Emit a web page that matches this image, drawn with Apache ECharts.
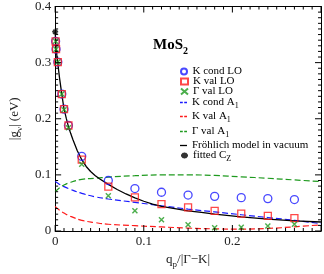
<!DOCTYPE html>
<html><head><meta charset="utf-8">
<script src="https://cdn.jsdelivr.net/npm/echarts@6/dist/echarts.min.js"></script>
<style>html,body{margin:0;padding:0;background:#fff}#c{width:324px;height:274px}</style>
</head><body><div id="c"></div>
<script>
// ---- data ----
const qLO = [0.0005, 0.001, 0.003, 0.0075, 0.01, 0.015, 0.03, 0.06, 0.09, 0.12, 0.15, 0.18, 0.21, 0.24, 0.27];
const kCondLO = [0.338, 0.324, 0.301, 0.244, 0.217, 0.188, 0.133, 0.090, 0.0756, 0.069, 0.064, 0.0617, 0.0594, 0.0577, 0.056];
const kValLO  = [0.338, 0.324, 0.301, 0.244, 0.217, 0.188, 0.127, 0.079, 0.060, 0.048, 0.042, 0.036, 0.031, 0.027, 0.023];
const gValLO  = [0.338, 0.324, 0.301, 0.244, 0.216, 0.184, 0.119, 0.063, 0.036, 0.020, 0.011, 0.006, 0.0067, 0.009, 0.012];

const qA1 = [0, 0.005, 0.01, 0.016, 0.03, 0.045, 0.06, 0.09, 0.12, 0.15, 0.18, 0.21, 0.24, 0.27, 0.3];
const kCondA1 = [0.088, 0.083, 0.079, 0.075, 0.067, 0.061, 0.057, 0.051, 0.045, 0.039, 0.034, 0.029, 0.024, 0.019, 0.013];
const kValA1  = [0.044, 0.037, 0.032, 0.027, 0.019, 0.015, 0.012, 0.0095, 0.0072, 0.0052, 0.0038, 0.0034, 0.0045, 0.0075, 0.011];
const gValA1  = [0.070, 0.077, 0.082, 0.086, 0.092, 0.094, 0.096, 0.0985, 0.100, 0.100, 0.099, 0.0965, 0.094, 0.091, 0.088];

const qFr = [0, 0.001, 0.002, 0.003, 0.004, 0.005, 0.0065, 0.0075, 0.009, 0.01, 0.0125, 0.015, 0.0175, 0.02, 0.025, 0.03, 0.035, 0.04, 0.045, 0.05, 0.06, 0.07, 0.08, 0.09, 0.1, 0.11, 0.12, 0.135, 0.15, 0.165, 0.18, 0.21, 0.24, 0.27, 0.3];
const frohlich = [0.355, 0.326, 0.312, 0.300, 0.285, 0.272, 0.255, 0.244, 0.228, 0.218, 0.201, 0.186, 0.174, 0.163, 0.143, 0.127, 0.115, 0.106, 0.099, 0.093, 0.083, 0.074, 0.066, 0.059, 0.053, 0.048, 0.044, 0.040, 0.036, 0.033, 0.030, 0.025, 0.021, 0.018, 0.016];

const qCz = [0];
const fittedCz = [0.355];

// tick positions (major every 0.1, minor every 0.01)
const xTickVals = [0, 0.01, 0.02, 0.03, 0.04, 0.05, 0.06, 0.07, 0.08, 0.09, 0.1, 0.11, 0.12, 0.13, 0.14, 0.15, 0.16, 0.17, 0.18, 0.19, 0.2, 0.21, 0.22, 0.23, 0.24, 0.25, 0.26, 0.27, 0.28, 0.29, 0.3];
const yTickVals = [0, 0.01, 0.02, 0.03, 0.04, 0.05, 0.06, 0.07, 0.08, 0.09, 0.1, 0.11, 0.12, 0.13, 0.14, 0.15, 0.16, 0.17, 0.18, 0.19, 0.2, 0.21, 0.22, 0.23, 0.24, 0.25, 0.26, 0.27, 0.28, 0.29, 0.3, 0.31, 0.32, 0.33, 0.34, 0.35, 0.36, 0.37, 0.38, 0.39, 0.4];
const X_MIN = 0, X_MAX = 0.3, Y_MIN = 0, Y_MAX = 0.4;

// ---- helpers ----
const zip = (xs, ys) => xs.map((x, i) => [x, ys[i]]);
const FONT = 'Liberation Serif';
const BLUE = '#1a1aff', RED = '#ff1a1a', GREEN = '#1f9a1f';
const xPath = 'path://M0,0L10,10M10,0L0,10';
const starPath = 'path://M5,0L5,10M0,5L10,5M1.5,1.5L8.5,8.5M8.5,1.5L1.5,8.5';
const dashIcon = 'path://M0,0H4V1H0ZM6,0H10V1H6Z';
const rich = {
  t: { fontFamily: FONT, fontSize: 11, color: '#000' },
  s: { fontFamily: FONT, fontSize: 8, color: '#000', verticalAlign: 'top', padding: [7, 0, 0, 0] }
};
const names = ['K cond LO', 'K val LO', 'Γ val LO', 'K cond A1', 'K val A1', 'Γ val A1', 'Fröhlich model in vacuum', 'fitted CZ'];
const labels = {
  'K cond LO': '{t|K cond LO}', 'K val LO': '{t|K val LO}', 'Γ val LO': '{t|Γ val LO}',
  'K cond A1': '{t|K cond A}{s|1}', 'K val A1': '{t|K val A}{s|1}', 'Γ val A1': '{t|Γ val A}{s|1}',
  'Fröhlich model in vacuum': '{t|Fröhlich model in vacuum}', 'fitted CZ': '{t|fitted C}{s|Z}'
};
const icons = [null, null, null, dashIcon, dashIcon, dashIcon, 'rect', null];
const rowY = [73, 83, 93, 104, 118, 133, 147, 157];
const legends = names.map((n, i) => {
  const isLine = icons[i] !== null;
  return {
    orient: 'vertical', left: 180, top: rowY[i] - 7, itemWidth: 7, itemHeight: isLine ? 1.3 : 6, itemGap: 0,
    padding: 0, selectedMode: false, symbolKeepAspect: false,
    data: [isLine ? { name: n, icon: icons[i] } : n],
    formatter: nm => labels[nm],
    textStyle: { fontFamily: FONT, fontSize: 11, color: '#000', rich }
  };
});

function mkAxis(extra) {
  return Object.assign({
    axisTick: { show: false },
    minorTick: { show: false },
    splitLine: { show: false },
    minorSplitLine: { show: false }
  }, extra);
}
const labelStyle = { fontFamily: FONT, fontSize: 13, color: '#222', margin: 4 };
const nameRich = {
  a: { fontFamily: FONT, fontSize: 13, color: '#222', verticalAlign: 'top' },
  s: { fontFamily: FONT, fontSize: 9, color: '#222', verticalAlign: 'top', padding: [7, 0, 0, 0] }
};

// tick marks as small bars placed through the axis scale at each tick value
const isMajor = v => Math.abs(v * 10 - Math.round(v * 10)) < 1e-6;
const tickLen = v => (isMajor(v) ? 6 : 3);
const bottomTicks = xTickVals.map(v => ({ value: [v, Y_MIN], symbolSize: [1, tickLen(v)], symbolOffset: [0, -tickLen(v) / 2] }));
const topTicks    = xTickVals.map(v => ({ value: [v, Y_MAX], symbolSize: [1, tickLen(v)], symbolOffset: [0,  tickLen(v) / 2] }));
const leftTicks   = yTickVals.map(v => ({ value: [X_MIN, v], symbolSize: [tickLen(v), 1], symbolOffset: [ tickLen(v) / 2, 0] }));
const rightTicks  = yTickVals.map(v => ({ value: [X_MAX, v], symbolSize: [tickLen(v), 1], symbolOffset: [-tickLen(v) / 2, 0] }));
const tickSeries = [bottomTicks, topTicks, leftTicks, rightTicks].map(d => ({
  type: 'scatter', data: d, symbol: 'rect', clip: false, silent: true, z: 10,
  itemStyle: { color: '#000', borderWidth: 0, opacity: 1 }, emphasis: { disabled: true }
}));

const chart = echarts.init(document.getElementById('c'), null, { renderer: 'canvas' });
chart.setOption({
  animation: false,
  backgroundColor: '#fff',
  tooltip: { show: false },
  title: {
    text: '{a|MoS}{b|2}', left: 148, top: 33,
    textStyle: { rich: {
      a: { fontFamily: FONT, fontSize: 15, color: '#000', verticalAlign: 'top' },
      b: { fontFamily: FONT, fontSize: 10, color: '#000', verticalAlign: 'top', padding: [8, 0, 0, 0] }
    } }
  },
  legend: legends,
  grid: { left: 33, right: 3, top: 5, bottom: 31, containLabel: false },
  xAxis: [
    mkAxis({
      type: 'value', min: X_MIN, max: X_MAX, interval: 0.1, position: 'bottom',
      axisLine: { show: true, onZero: true, onZeroAxisIndex: 0, lineStyle: { color: '#000', width: 1 } },
      axisLabel: Object.assign({ showMaxLabel: false }, labelStyle),
      name: '{a|q}{s|p}{a|/|Γ−K|}', nameLocation: 'middle', nameGap: 22,
      nameTextStyle: { rich: nameRich }
    }),
    mkAxis({
      type: 'value', min: X_MIN, max: X_MAX, interval: 0.1, position: 'top', inverse: true,
      axisLine: { show: true, onZero: true, onZeroAxisIndex: 1, lineStyle: { color: '#000', width: 1 } },
      axisLabel: { show: false }
    })
  ],
  yAxis: [
    mkAxis({
      type: 'value', min: Y_MIN, max: Y_MAX, interval: 0.1, position: 'left',
      axisLine: { show: true, onZero: true, onZeroAxisIndex: 0, lineStyle: { color: '#000', width: 1 } },
      axisLabel: labelStyle,
      name: '{a||g}{s|ν}{a|| (eV)}', nameLocation: 'middle', nameGap: 24, nameRotate: 90,
      nameTextStyle: { rich: nameRich }
    }),
    mkAxis({
      type: 'value', min: Y_MIN, max: Y_MAX, interval: 0.1, position: 'right', inverse: true,
      axisLine: { show: true, onZero: true, onZeroAxisIndex: 1, lineStyle: { color: '#000', width: 1 } },
      axisLabel: { show: false }
    })
  ],
  series: tickSeries.concat([
    { name: 'K cond A1', type: 'line', data: zip(qA1, kCondA1), symbol: 'none', smooth: 0.4,
      lineStyle: { color: BLUE, width: 1.2, type: [6, 3] }, itemStyle: { color: BLUE }, z: 2 },
    { name: 'K val A1', type: 'line', data: zip(qA1, kValA1), symbol: 'none', smooth: 0.4,
      lineStyle: { color: RED, width: 1.2, type: [6, 3] }, itemStyle: { color: RED }, z: 2 },
    { name: 'Γ val A1', type: 'line', data: zip(qA1, gValA1), symbol: 'none', smooth: 0.4,
      lineStyle: { color: GREEN, width: 1.2, type: [6, 3] }, itemStyle: { color: GREEN }, z: 2 },
    { name: 'Fröhlich model in vacuum', type: 'line', data: zip(qFr, frohlich), symbol: 'none', smooth: false,
      lineStyle: { color: '#000', width: 1.3 }, itemStyle: { color: '#000' }, z: 3 },
    { name: 'K cond LO', type: 'scatter', data: zip(qLO, kCondLO), symbol: 'circle', symbolSize: 8,
      itemStyle: { color: 'transparent', borderColor: BLUE, borderWidth: 1.3 }, z: 4 },
    { name: 'K val LO', type: 'scatter', data: zip(qLO, kValLO), symbol: 'rect', symbolSize: 7,
      itemStyle: { color: 'transparent', borderColor: RED, borderWidth: 1.3 }, z: 5 },
    { name: 'Γ val LO', type: 'scatter', data: zip(qLO, gValLO), symbol: xPath, symbolSize: 5,
      itemStyle: { color: 'transparent', borderColor: GREEN, borderWidth: 1.4 }, z: 6 },
    { name: 'fitted CZ', type: 'scatter', data: zip(qCz, fittedCz), symbol: starPath, symbolSize: 6,
      itemStyle: { color: '#000', borderColor: '#000', borderWidth: 1.5 }, z: 7 }
  ])
});
</script></body></html>
